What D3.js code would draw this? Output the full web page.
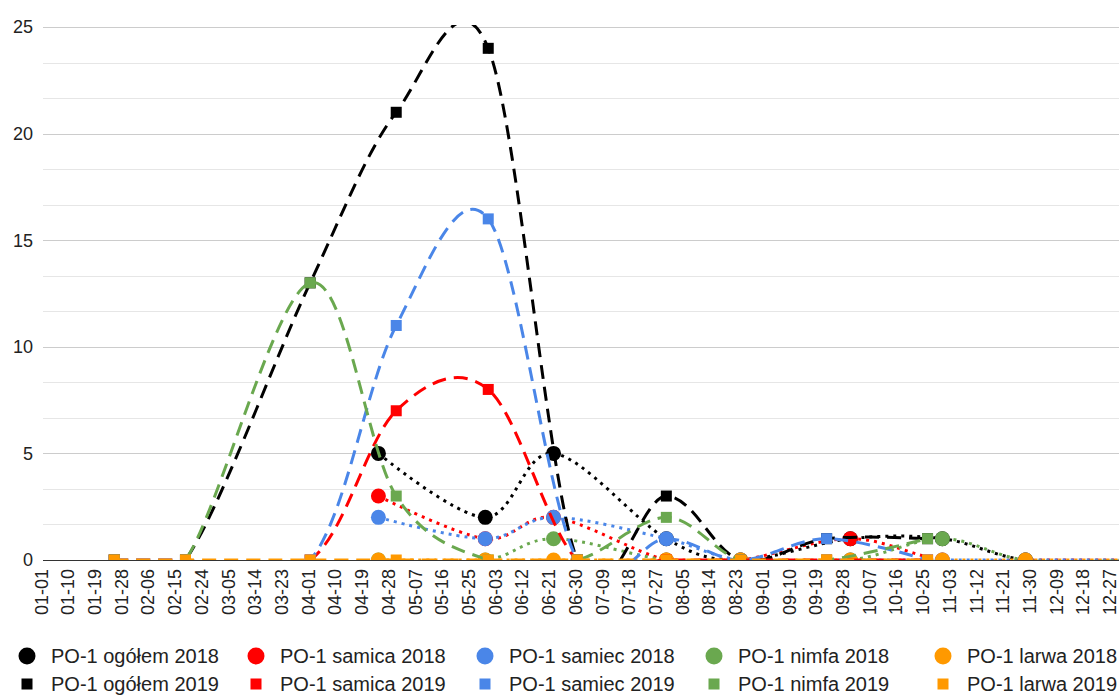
<!DOCTYPE html>
<html>
<head>
<meta charset="utf-8">
<script src="https://cdn.jsdelivr.net/npm/d3@7"></script>
<style>
  body { margin: 0; background: #fff; }
  svg { display: block; font-family: 'Liberation Sans', Arial, sans-serif; }
</style>
</head>
<body>
<svg id="chart" width="1119" height="695"></svg>
<script>
// x tick labels (every 9 days)
var tickLabels = ['01-01', '01-10', '01-19', '01-28', '02-06', '02-15', '02-24', '03-05', '03-14', '03-23',
  '04-01', '04-10', '04-19', '04-28', '05-07', '05-16', '05-25', '06-03', '06-12', '06-21',
  '06-30', '07-09', '07-18', '07-27', '08-05', '08-14', '08-23', '09-01', '09-10', '09-19',
  '09-28', '10-07', '10-16', '10-25', '11-03', '11-12', '11-21', '11-30', '12-09', '12-18', '12-27'];
var yTicks = [0, 5, 10, 15, 20, 25];

// sampling dates (the last 2018 sample falls just past the axis end)
var dates2018 = ['04-24', '05-30', '06-22', '07-30', '08-24', '09-30', '10-31', '11-28', '2019-01-03'];
var dates2019 = ['01-25', '02-18', '04-01', '04-30', '05-31', '06-30', '07-30', '08-24', '09-22', '10-26'];

// 2018 values
var ogolem2018 = [5, 2, 5, 1, 0, 1, 1, 0, 0];
var samica2018 = [3, 1, 2, 0, 0, 1, 0, 0, 0];
var samiec2018 = [2, 1, 2, 1, 0, 0, 0, 0, 0];
var nimfa2018 = [0, 0, 1, 0, 0, 0, 1, 0, 0];
var larwa2018 = [0, 0, 0, 0, 0, 0, 0, 0, 0];

// 2019 values
var ogolem2019 = [0, 0, 13, 21, 24, 0, 3, 0, 1, 1];
var samica2019 = [0, 0, 0, 7, 8, 0, 0, 0, 0, 0];
var samiec2019 = [0, 0, 0, 11, 16, 0, 1, 0, 1, 0];
var nimfa2019 = [0, 0, 13, 3, 0, 0, 2, 0, 0, 1];
var larwa2019 = [0, 0, 0, 0, 0, 0, 0, 0, 0, 0];

var seriesNames = ['PO-1 ogółem 2018', 'PO-1 samica 2018', 'PO-1 samiec 2018', 'PO-1 nimfa 2018', 'PO-1 larwa 2018',
  'PO-1 ogółem 2019', 'PO-1 samica 2019', 'PO-1 samiec 2019', 'PO-1 nimfa 2019', 'PO-1 larwa 2019'];
var colors = ['#000000', '#ff0000', '#4a86e8', '#6aa84f', '#ff9900'];

(function () {
  var parseDay = d3.utcParse('%Y-%m-%d');
  // month-day strings share one calendar year on the axis
  function toDate(s) { return parseDay(s.length > 5 ? s : '2018-' + s); }

  function build(list, dates, year, offset) {
    return list.map(function (vals, i) {
      return {
        name: seriesNames[i + offset], year: year, color: colors[i],
        values: vals.map(function (v, j) { return { date: toDate(dates[j]), value: v }; })
      };
    });
  }
  var series = build([ogolem2018, samica2018, samiec2018, nimfa2018, larwa2018], dates2018, 2018, 0)
    .concat(build([ogolem2019, samica2019, samiec2019, nimfa2019, larwa2019], dates2019, 2019, 5));

  var svg = d3.select('#chart');
  var m = { left: 43, right: 1119, top: 27, bottom: 560 };

  var start = toDate('01-01');
  var x = d3.scaleUtc()
    .domain([start, d3.utcHour.offset(start, 362.5 * 24)])
    .range([m.left, m.right]);
  var y = d3.scaleLinear().domain([0, 25]).range([m.bottom, m.top]);

  // gridlines: minor every 5/3, major every 5
  var minor = d3.range(0, 25.01, 5 / 3);
  svg.append('g').selectAll('line').data(minor).enter().append('line')
    .attr('x1', m.left).attr('x2', m.right)
    .attr('y1', function (d) { return Math.round(y(d)) + 0.5; })
    .attr('y2', function (d) { return Math.round(y(d)) + 0.5; })
    .attr('stroke', '#e6e6e6');
  svg.append('g').selectAll('line').data(yTicks.slice(1)).enter().append('line')
    .attr('x1', m.left).attr('x2', m.right)
    .attr('y1', function (d) { return Math.round(y(d)) + 0.5; })
    .attr('y2', function (d) { return Math.round(y(d)) + 0.5; })
    .attr('stroke', '#cccccc');

  // y labels
  svg.append('g').selectAll('text').data(yTicks).enter().append('text')
    .attr('x', 33).attr('y', function (d) { return y(d); })
    .attr('dy', '0.35em').attr('text-anchor', 'end')
    .attr('font-size', 18).attr('fill', '#222')
    .text(function (d) { return d; });

  // x axis labels
  svg.append('g').selectAll('text').data(tickLabels).enter().append('text')
    .attr('transform', function (d) { return 'translate(' + (x(toDate(d)) + 4.5) + ',569) rotate(-90)'; })
    .attr('text-anchor', 'end')
    .attr('font-size', 18).attr('fill', '#222')
    .text(function (d) { return d; });

  svg.append('clipPath').attr('id', 'plot-clip').append('rect')
    .attr('x', m.left).attr('y', m.top - 2)
    .attr('width', m.right - m.left).attr('height', m.bottom - m.top + 2);

  var line = d3.line()
    .x(function (d) { return x(d.date); })
    .y(function (d) { return y(d.value); })
    .curve(d3.curveCardinal.tension(0));

  var plot = svg.append('g').attr('clip-path', 'url(#plot-clip)');

  series.forEach(function (s) {
    plot.append('path')
      .datum(s.values)
      .attr('d', line)
      .attr('fill', 'none')
      .attr('stroke', s.color)
      .attr('stroke-width', 3)
      .attr('stroke-dasharray', s.year === 2018 ? '3,5' : '14,8');

    if (s.year === 2018) {
      plot.append('g').selectAll('circle').data(s.values).enter().append('circle')
        .attr('cx', function (d) { return x(d.date); })
        .attr('cy', function (d) { return y(d.value); })
        .attr('r', 7.5)
        .attr('fill', s.color);
    } else {
      plot.append('g').selectAll('rect').data(s.values).enter().append('rect')
        .attr('x', function (d) { return x(d.date) - 5.5; })
        .attr('y', function (d) { return y(d.value) - 5.5; })
        .attr('width', 11).attr('height', 11)
        .attr('fill', s.color);
    }
  });

  // baseline
  svg.append('line')
    .attr('x1', m.left).attr('x2', m.right)
    .attr('y1', m.bottom + 0.5).attr('y2', m.bottom + 0.5)
    .attr('stroke', '#333').attr('stroke-width', 1.2);

  // legend
  var legend = svg.append('g').selectAll('g').data(series).enter().append('g')
    .attr('transform', function (d, i) {
      return 'translate(' + (27 + (i % 5) * 229) + ',' + (i < 5 ? 656 : 684) + ')';
    });
  legend.each(function (d) {
    var g = d3.select(this);
    if (d.year === 2018) {
      g.append('circle').attr('r', 8.5).attr('fill', d.color);
    } else {
      g.append('rect').attr('x', -5.5).attr('y', -5.5).attr('width', 11).attr('height', 11).attr('fill', d.color);
    }
  });
  legend.append('text')
    .attr('x', 24).attr('dy', '0.35em')
    .attr('font-size', 20).attr('fill', '#222')
    .text(function (d) { return d.name; });
})();
</script>
</body>
</html>
